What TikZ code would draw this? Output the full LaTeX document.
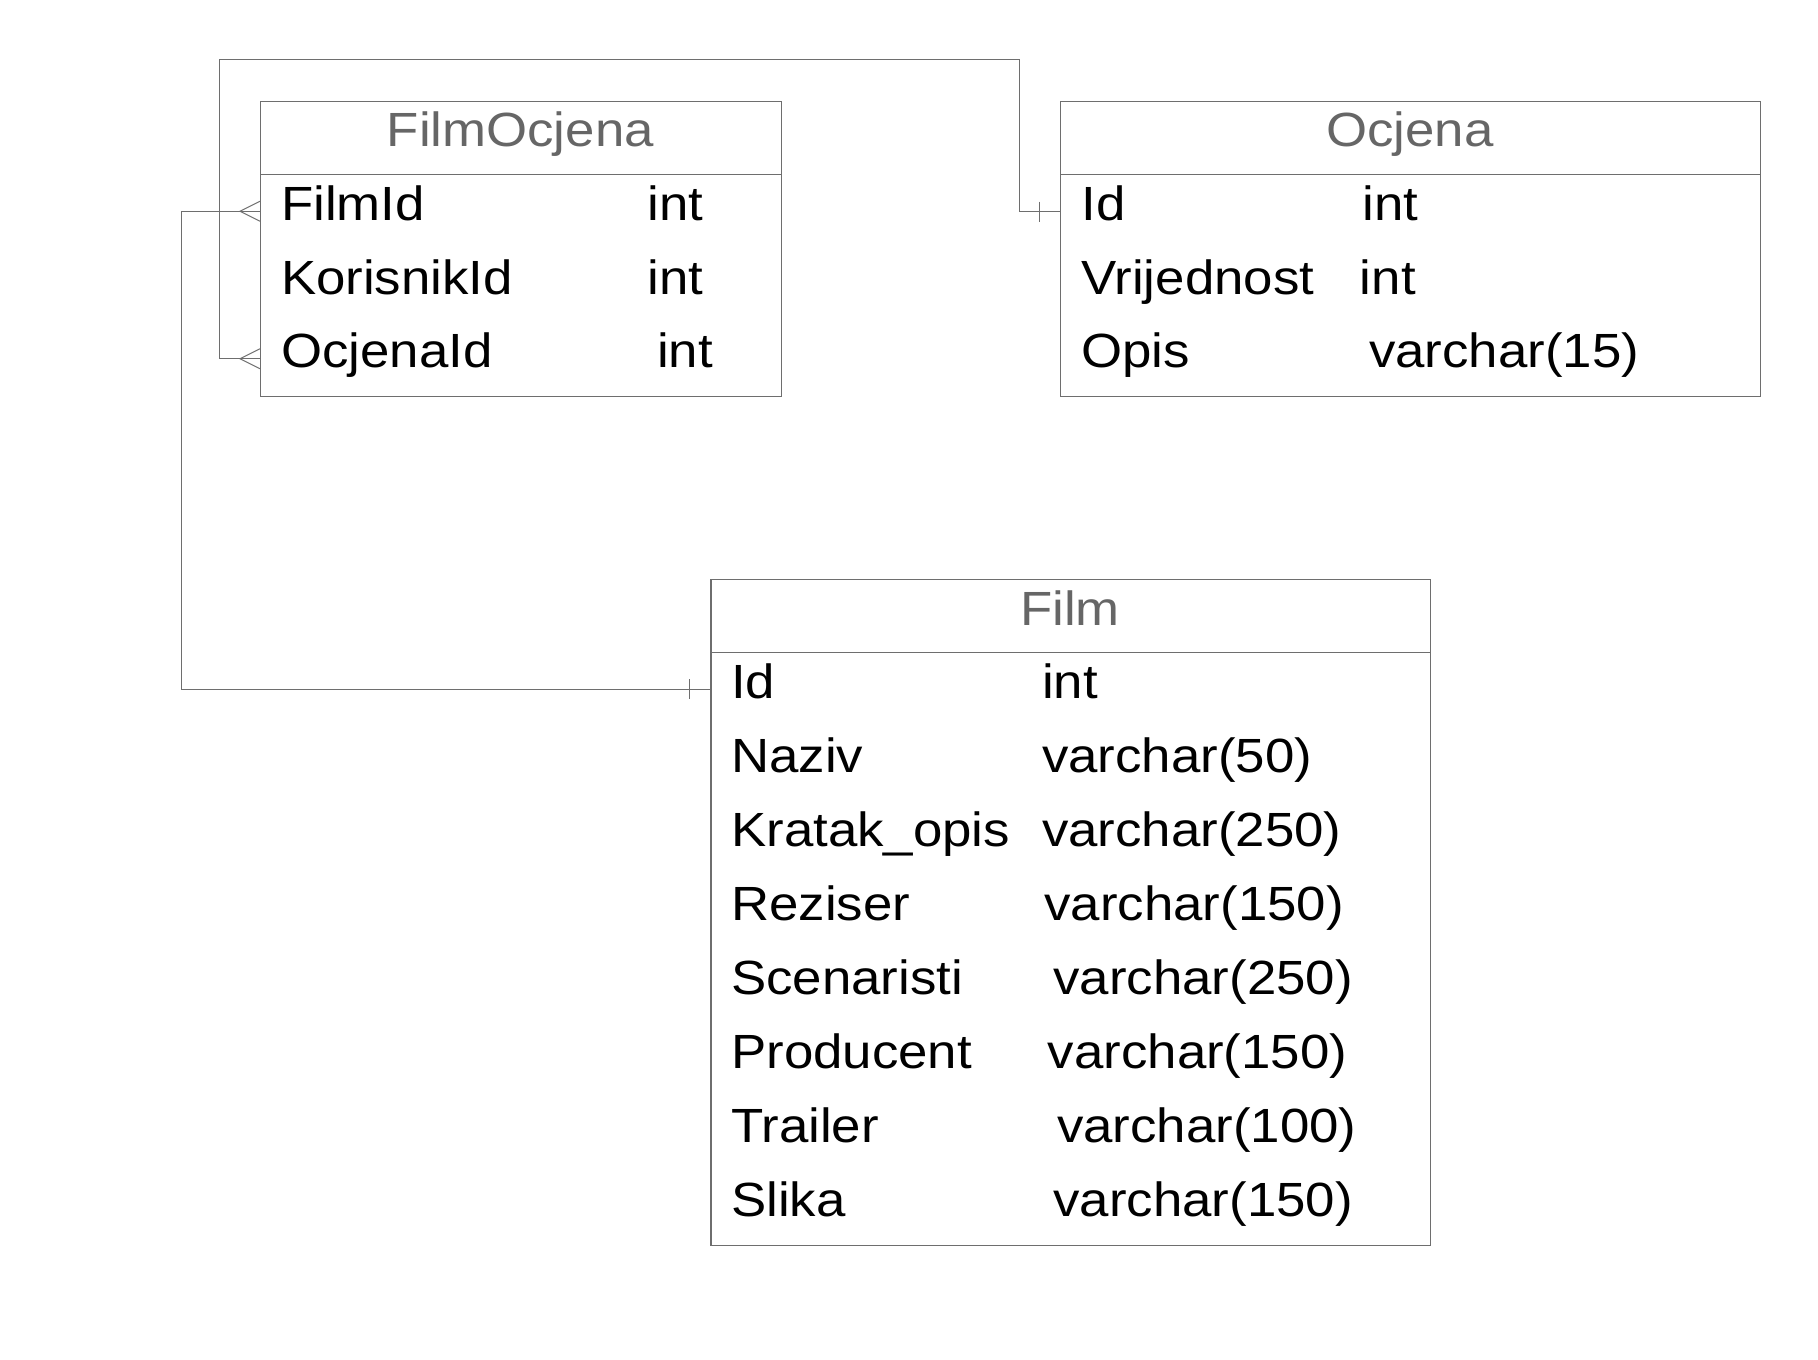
\documentclass[tikz,border=0pt]{standalone}
\usepackage{fontspec}
\setmainfont[FakeStretch=1.1]{Liberation Sans}
\definecolor{linegray}{HTML}{6E6E6E}
\definecolor{headgray}{HTML}{666666}
\begin{document}
\begin{tikzpicture}[x=0.5pt,y=-0.5pt,
  tbox/.style={draw=linegray, line width=0.65pt, inner sep=0pt, anchor=north west},
  hdr/.style={text=headgray, anchor=base, inner sep=0pt, font=\fontsize{24}{28}\selectfont},
  fld/.style={anchor=base west, inner sep=0pt, font=\fontsize{24}{28}\selectfont},
  sep/.style={draw=linegray, line width=0.65pt},
  conn/.style={draw=linegray, line width=0.5pt},
]
\useasboundingbox (0,0) rectangle (1818,1359);

% FilmOcjena table
\node[tbox, minimum width=260.35pt, minimum height=147.45pt] (fo) at (260,100.7) {};
\draw[sep] (260,174.7) -- (780.7,174.7);
\node[hdr] (fohdr) at (520.3,147) {FilmOcjena};
\node[fld] (fo1n) at (280.7,220.5) {FilmId};
\node[fld] (fo1t) at (647,220.5) {int};
\node[fld] (fo2n) at (280.7,294.1) {KorisnikId};
\node[fld] (fo2t) at (647,294.1) {int};
\node[fld] (fo3n) at (280.7,367.7) {OcjenaId};
\node[fld] (fo3t) at (656.6,367.7) {int};

% Ocjena table
\node[tbox, minimum width=350pt, minimum height=147.65pt] (oc) at (1060,100.7) {};
\draw[sep] (1060,174.3) -- (1760,174.3);
\node[hdr] (ochdr) at (1410,147) {Ocjena};
\node[fld] (oc1n) at (1081,220.5) {Id};
\node[fld] (oc1t) at (1362,220.5) {int};
\node[fld] (oc2n) at (1081,294.1) {Vrijednost};
\node[fld] (oc2t) at (1359.5,294.1) {int};
\node[fld] (oc3n) at (1081,367.7) {Opis};
\node[fld] (oc3t) at (1368.8,367.7) {varchar(15)};

% Film table
\node[tbox, minimum width=359.85pt, minimum height=332.95pt] (fi) at (710.3,578.8) {};
\draw[sep] (710.3,652.3) -- (1430,652.3);
\node[hdr] (fihdr) at (1070,625) {Film};
\node[fld] (fi1n) at (730.8,698.3) {Id};
\node[fld] (fi1t) at (1041.7,698.3) {int};
\node[fld] (fi2n) at (730.8,772.35) {Naziv};
\node[fld] (fi2t) at (1041.7,772.35) {varchar(50)};
\node[fld] (fi3n) at (730.8,846.4) {Kratak\_opis};
\node[fld] (fi3t) at (1041.7,846.4) {varchar(250)};
\node[fld] (fi4n) at (730.8,920.45) {Reziser};
\node[fld] (fi4t) at (1044,920.45) {varchar(150)};
\node[fld] (fi5n) at (730.8,994.5) {Scenaristi};
\node[fld] (fi5t) at (1053,994.5) {varchar(250)};
\node[fld] (fi6n) at (730.8,1068.55) {Producent};
\node[fld] (fi6t) at (1047.5,1068.55) {varchar(150)};
\node[fld] (fi7n) at (730.8,1142.6) {Trailer};
\node[fld] (fi7t) at (1056.8,1142.6) {varchar(100)};
\node[fld] (fi8n) at (730.8,1216.65) {Slika};
\node[fld] (fi8t) at (1053,1216.65) {varchar(150)};

% connector end points
\coordinate (foFilm) at (260,211.3);
\coordinate (foOcj) at (260,358.7);
\coordinate (ocId) at (1060,211.7);
\coordinate (fiId) at (710.3,689.3);

% FilmOcjena.OcjenaId -> Ocjena.Id
\draw[conn] (foOcj) -- (219,358.7) -- (219,60) -- (1019.3,60) -- (1019.3,211.7) -- (ocId);
\draw[conn] (foOcj) ++(0,-10) -- ++(-20,10) -- ++(20,10);
\draw[conn] (1039.3,201.7) -- (1039.3,221.7);

% FilmOcjena.FilmId -> Film.Id
\draw[conn] (foFilm) -- (181,211.3) -- (181,689.3) -- (fiId);
\draw[conn] (foFilm) ++(0,-10) -- ++(-20,10) -- ++(20,10);
\draw[conn] (689.3,679.3) -- (689.3,699.3);
\end{tikzpicture}
\end{document}
